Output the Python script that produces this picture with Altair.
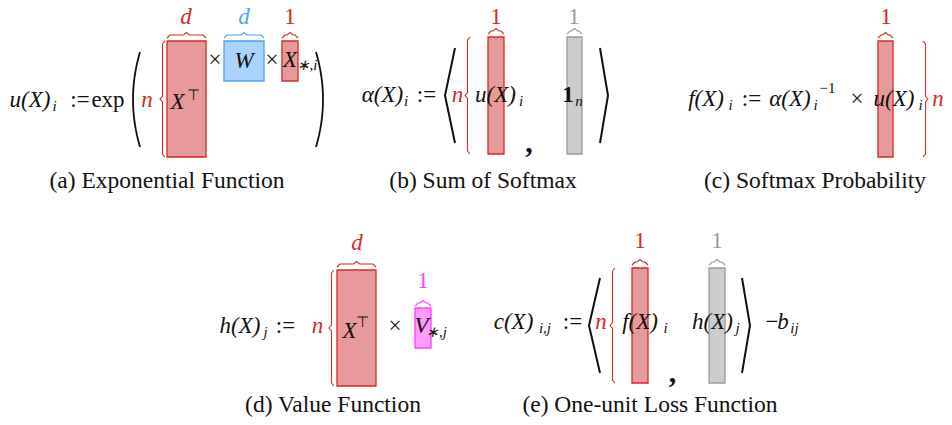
import altair as alt
import pandas as pd

# ---------------- data ----------------
PAL = {
    "red": ("#e89a9a", "#d42a2a"),
    "blue": ("#aad4ff", "#4d9ff0"),
    "gray": ("#cccccc", "#9a9a9a"),
    "magenta": ("#ff9cff", "#ff3cff"),
}
TXT = {"k": "#111111", "red": "#d42a2a", "blue": "#4da3f5", "gray": "#9a9a9a", "magenta": "#ff44ff"}

# matrix blocks (one per bar drawn)
rect_kind = ["red", "blue", "red", "red", "gray", "red", "red", "magenta", "red", "gray"]
rect_x0 = [167, 224, 282, 488, 567, 878, 337, 415, 632, 709]
rect_x1 = [206, 264, 298, 504, 582, 893, 376, 431, 648, 725]
rect_y0 = [41, 41, 41, 37, 37, 41, 270, 308, 268, 268]
rect_y1 = [157, 81, 81, 154, 154, 157, 386, 348, 383, 383]
brace_y = [35, 35, 35, 31, 31, 35, 264, 303, 262, 262]

# vertical braces (n dimension)
vb_tip = [160, 465, 928, 329, 610]
vb_y0 = [41, 37, 41, 270, 268]
vb_y1 = [157, 154, 157, 386, 383]
vb_dir = [1, 1, -1, 1, 1]

# angle brackets  (x_end, x_mid, y_top, y_bottom)
ab_end = [455, 600, 600, 742]
ab_mid = [445, 608, 589, 750]
ab_top = [48, 48, 278, 278]
ab_bot = [143, 143, 373, 373]

# round parentheses of exp(...)
par_end = [140, 316]
par_bulge = [7, -7]
par_top = [52, 52]
par_bot = [147, 147]

M = 23   # main math size
S = 15   # sub/superscript size
# text pieces: x-span start, x-span end, baseline y, text, size, colour, style
texts = [
    # (a)
    (10, 50, 107, "u(X)", M, "k", "i"), (52, 57, 111, "i", S, "k", "i"),
    (68, 92, 107, ":=", M, "k", "r"), (93, 123, 107, "exp", M, "k", "r"),
    (142, 152, 107, "n", M, "red", "i"),
    (168, 187, 109, "X", M, "k", "i"), (188, 198, 100, "⊤", S, "k", "r"),
    (210, 220, 67, "×", M, "k", "r"), (233, 255, 68, "W", M, "k", "i"),
    (267, 277, 67, "×", M, "k", "r"),
    (283, 297, 67, "X", M, "k", "i"), (298, 316, 70, "∗,i", S, "k", "i"),
    (180, 192, 24, "d", M, "red", "i"), (238, 250, 24, "d", M, "blue", "i"),
    (285, 295, 24, "1", M, "red", "r"),
    (167, 167, 188, "(a) Exponential Function", 23.5, "k", "c"),
    # (b)
    (362, 403, 102, "α(X)", M, "k", "i"), (404, 408, 106, "i", S, "k", "i"),
    (413, 440, 102, ":=", M, "k", "r"),
    (452, 463, 102, "n", M, "red", "i"),
    (473, 518, 102, "u(X)", M, "k", "i"), (519, 523, 106, "i", S, "k", "i"),
    (525, 533, 152, ",", 30, "k", "b"),
    (563, 573, 102, "1", M, "k", "b"), (573, 585, 106, "n", S, "k", "i"),
    (490, 502, 24, "1", M, "red", "r"), (568, 580, 24, "1", M, "gray", "r"),
    (483, 483, 188, "(b) Sum of Softmax", 23.5, "k", "c"),
    # (c)
    (685, 727, 106, "f(X)", M, "k", "i"), (728, 733, 110, "i", S, "k", "i"),
    (738, 765, 106, ":=", M, "k", "r"), (768, 812, 106, "α(X)", M, "k", "i"),
    (817, 838, 93, "−1", S, "k", "r"), (813, 818, 110, "i", S, "k", "i"),
    (852, 862, 106, "×", M, "k", "r"), (870, 918, 106, "u(X)", M, "k", "i"),
    (918, 923, 110, "i", S, "k", "i"),
    (933, 943, 106, "n", M, "red", "i"),
    (880, 892, 24, "1", M, "red", "r"),
    (815, 815, 188, "(c) Softmax Probability", 23.5, "k", "c"),
    # (d)
    (218, 262, 333, "h(X)", M, "k", "i"), (263, 268, 337, "j", S, "k", "i"),
    (273, 298, 333, ":=", M, "k", "r"),
    (312, 323, 333, "n", M, "red", "i"),
    (342, 357, 338, "X", M, "k", "i"), (358, 367, 327, "⊤", S, "k", "r"),
    (390, 400, 333, "×", M, "k", "r"),
    (415, 428, 333, "V", M, "k", "i"), (428, 445, 337, "∗,j", S, "k", "i"),
    (351, 363, 250, "d", M, "red", "i"), (418, 428, 288, "1", M, "magenta", "r"),
    (333, 333, 412, "(d) Value Function", 23.5, "k", "c"),
    # (e)
    (492, 535, 329, "c(X)", M, "k", "i"), (537, 553, 333, "i,j", S, "k", "i"),
    (560, 585, 329, ":=", M, "k", "r"),
    (595, 607, 329, "n", M, "red", "i"),
    (618, 662, 329, "f(X)", M, "k", "i"), (663, 668, 333, "i", S, "k", "i"),
    (668, 677, 382, ",", 30, "k", "b"),
    (690, 735, 329, "h(X)", M, "k", "i"), (735, 740, 333, "j", S, "k", "i"),
    (766, 778, 329, "−", M, "k", "r"), (779, 787, 329, "b", M, "k", "i"),
    (787, 802, 333, "ij", S, "k", "i"),
    (635, 645, 248, "1", M, "red", "r"), (712, 722, 248, "1", M, "gray", "r"),
    (650, 650, 412, "(e) One-unit Loss Function", 23.5, "k", "c"),
]

# ---------------- tables ----------------
rects = pd.DataFrame({
    "x": rect_x0, "x2": rect_x1, "y": rect_y0, "y2": rect_y1,
    "fill": [PAL[k][0] for k in rect_kind], "stroke": [PAL[k][1] for k in rect_kind],
})

lines = []
gid = 0
# horizontal braces over blocks
for x0, x1, f, k in zip(rect_x0, rect_x1, brace_y, rect_kind):
    xm = (x0 + x1) / 2
    pts = [(x0, f + 3), (x0 + 3, f), (xm - 3, f), (xm, f - 2.5), (xm + 3, f), (x1 - 3, f), (x1, f + 3)]
    for o, (px, py) in enumerate(pts):
        lines.append((gid, o, px, py, PAL[k][1], 1.1))
    gid += 1
# vertical braces
for t, y0, y1, d in zip(vb_tip, vb_y0, vb_y1, vb_dir):
    ym = (y0 + y1) / 2
    pts = [(t + 5 * d, y0), (t + 2.5 * d, y0 + 3), (t + 2.5 * d, ym - 3), (t, ym),
           (t + 2.5 * d, ym + 3), (t + 2.5 * d, y1 - 3), (t + 5 * d, y1)]
    for o, (px, py) in enumerate(pts):
        lines.append((gid, o, px, py, PAL["red"][1], 1.1))
    gid += 1
# angle brackets
for e, m, t, b in zip(ab_end, ab_mid, ab_top, ab_bot):
    for o, (px, py) in enumerate([(e, t), (m, (t + b) / 2), (e, b)]):
        lines.append((gid, o, px, py, "#111111", 2.0))
    gid += 1
# parentheses
for e, bl, t, b in zip(par_end, par_bulge, par_top, par_bot):
    n = 16
    for o in range(n + 1):
        s = -1 + 2 * o / n
        lines.append((gid, o, e - bl * (1 - s * s), (t + b) / 2 + s * (b - t) / 2, "#111111", 1.8))
    gid += 1
lines = pd.DataFrame(lines, columns=["gid", "ord", "x", "y", "col", "sw"])

tx = pd.DataFrame(texts, columns=["x0", "x1", "y", "txt", "size", "ck", "style"])
tx["x"] = (tx["x0"] + tx["x1"]) / 2
tx["col"] = tx["ck"].map(TXT)

# ---------------- chart ----------------
XS = alt.Scale(domain=[8, 944], nice=False, zero=False)
YS = alt.Scale(domain=[8, 417], nice=False, zero=False, reverse=True)
X = lambda f: alt.X(f, scale=XS, axis=None)
Y = lambda f: alt.Y(f, scale=YS, axis=None)

rect_layer = alt.Chart(rects).mark_rect(strokeWidth=1.3).encode(
    x=X("x:Q"), x2="x2:Q", y=Y("y:Q"), y2="y2:Q",
    fill=alt.Fill("fill:N", scale=None), stroke=alt.Stroke("stroke:N", scale=None),
)

line_layer = alt.Chart(lines).mark_line().encode(
    x=X("x:Q"), y=Y("y:Q"), detail="gid:N", order="ord:Q",
    color=alt.Color("col:N", scale=None), strokeWidth=alt.StrokeWidth("sw:Q", scale=None),
)

FONT = "Liberation Serif, Times New Roman, serif"
styles = {
    "i": dict(font=FONT, fontStyle="italic"),
    "r": dict(font=FONT),
    "b": dict(font=FONT, fontWeight="bold"),
    "c": dict(font=FONT),
}
text_layers = []
for st, sub in tx.groupby("style"):
    text_layers.append(
        alt.Chart(sub).mark_text(baseline="alphabetic", align="center", **styles[st]).encode(
            x=X("x:Q"), y=Y("y:Q"), text="txt:N",
            size=alt.Size("size:Q", scale=None), color=alt.Color("col:N", scale=None),
        )
    )

chart = alt.layer(rect_layer, line_layer, *text_layers).properties(
    width=936, height=409, padding=0, autosize="none", background="white"
).configure_view(stroke=None)

chart.save("out.html", embed_options={"renderer": "svg", "actions": False})
